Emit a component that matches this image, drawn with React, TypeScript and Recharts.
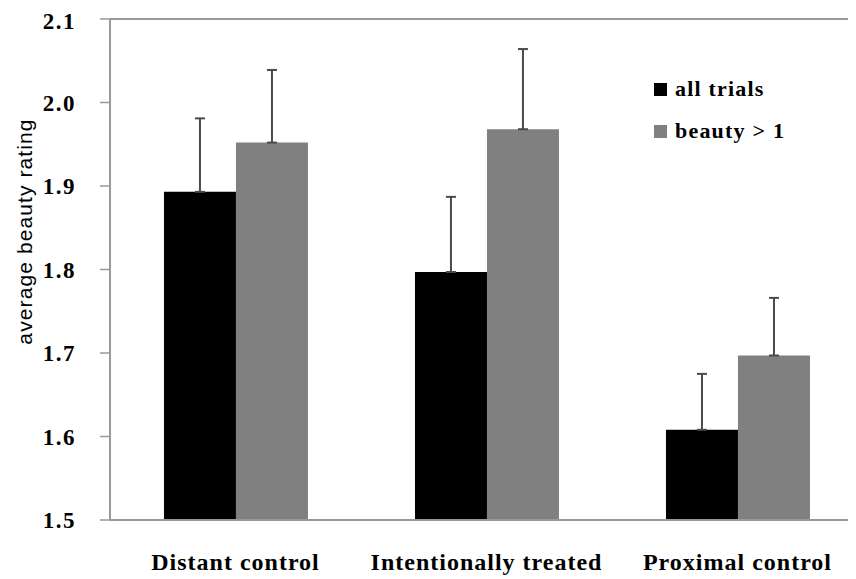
import React from 'react';
import { BarChart, Bar, XAxis, YAxis, ErrorBar, ReferenceLine, Legend, Label } from 'recharts';

const categories = ['Distant control', 'Intentionally treated', 'Proximal control'];
const allTrials = [1.893, 1.797, 1.608];
const allTrialsErr = [0.088, 0.090, 0.067];
const beautyGt1 = [1.952, 1.968, 1.697];
const beautyGt1Err = [0.087, 0.096, 0.069];
const yTicks = [1.5, 1.6, 1.7, 1.8, 1.9, 2.0, 2.1];
const boundaryTicks = [0, 1, 2, 3];

const data = categories.map((name, i) => ({
  name,
  all: allTrials[i],
  allErr: [0, allTrialsErr[i]],
  beauty: beautyGt1[i],
  beautyErr: [0, beautyGt1Err[i]],
}));

const serif = '"Liberation Serif", "Times New Roman", serif';

const LegendContent = (props: any) => {
  const { payload } = props;
  return (
    <div style={{ fontFamily: serif, fontWeight: 'bold', fontSize: 22, letterSpacing: 1.2, color: '#000' }}>
      {(payload || []).map((p: any, i: number) => (
        <div key={i} style={{ display: 'flex', alignItems: 'center', height: 42 }}>
          <span style={{ display: 'inline-block', width: 13, height: 13, background: p.color, marginRight: 8 }} />
          <span>{p.value}</span>
        </div>
      ))}
    </div>
  );
};

const YLabel = (props: any) => {
  const vb = props.viewBox || {};
  const cx = 16;
  const cy = vb.y + vb.height / 2 - 38;
  return (
    <text
      x={cx}
      y={cy}
      transform={`rotate(-90, ${cx}, ${cy})`}
      textAnchor="middle"
      dominantBaseline="central"
      fontFamily='"Liberation Sans", Arial, sans-serif'
      fontSize={21}
      letterSpacing={1.1}
      fill="#000"
    >
      average beauty rating
    </text>
  );
};

export default function App() {
  return (
    <div style={{ width: 848, height: 571, overflow: 'hidden', position: 'relative' }}>
      <BarChart
        width={870}
        height={571}
        data={data}
        margin={{ top: 11, right: 15, bottom: 9, left: 0 }}
        barCategoryGap="21.5%"
        barGap={0}
      >
        <XAxis
          xAxisId="grid"
          type="number"
          domain={[0, 3]}
          ticks={boundaryTicks}
          height={0}
          axisLine={false}
          tickLine={{ stroke: '#999', strokeWidth: 1.5 }}
          tickSize={9}
          tick={() => <g />}
          interval={0}
        />
        <XAxis
          dataKey="name"
          height={50}
          axisLine={{ stroke: '#999', strokeWidth: 2 }}
          tickLine={false}
          tickSize={0}
          tickMargin={33}
          interval={0}
          tick={{ fontFamily: serif, fontWeight: 'bold', fontSize: 24, fill: '#000', letterSpacing: 1 }}
        />
        <YAxis
          domain={[1.5, 2.1]}
          ticks={yTicks}
          width={102}
          axisLine={{ stroke: '#999', strokeWidth: 2 }}
          tickLine={{ stroke: '#999', strokeWidth: 1.5 }}
          tickSize={10}
          tickMargin={24}
          tickFormatter={(v: number) => v.toFixed(1)}
          tick={{ fontFamily: serif, fontWeight: 'bold', fontSize: 23, fill: '#000', letterSpacing: 1.5 }}
          allowDataOverflow
        >
          <Label content={<YLabel />} />
        </YAxis>
        <ReferenceLine y={2.1} stroke="#999" strokeWidth={2} />
        <Legend
          layout="vertical"
          verticalAlign="middle"
          align="center"
          content={<LegendContent />}
          wrapperStyle={{ top: 60, left: 646, width: 200 }}
        />
        <Bar dataKey="all" name="all trials" fill="#000000" isAnimationActive={false}>
          <ErrorBar dataKey="allErr" direction="y" width={5} stroke="#4a4a4a" strokeWidth={2} />
        </Bar>
        <Bar dataKey="beauty" name="beauty > 1" fill="#808080" isAnimationActive={false}>
          <ErrorBar dataKey="beautyErr" direction="y" width={5} stroke="#4a4a4a" strokeWidth={2} />
        </Bar>
      </BarChart>
    </div>
  );
}
